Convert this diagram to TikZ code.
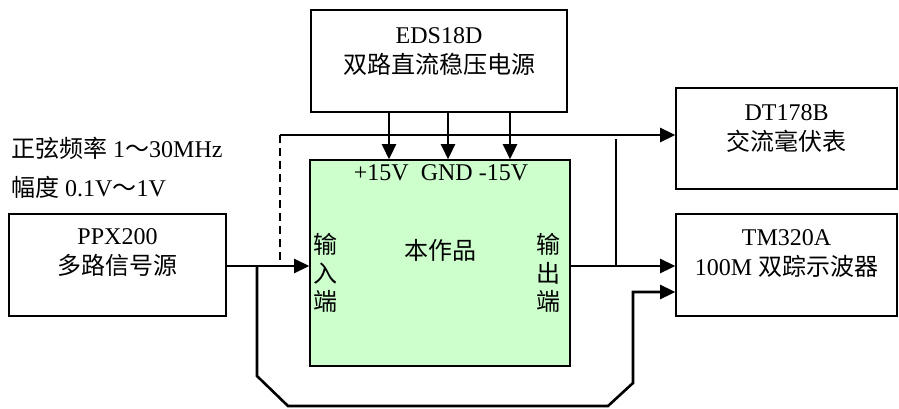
\documentclass[tikz,border=0pt]{standalone}
\usepackage{fontspec}
\setmainfont{Liberation Serif}
\newfontfamily\cjk{Noto Sans CJK SC}
\usetikzlibrary{arrows.meta}
\tikzset{
  box/.style={draw=black, line width=1.6pt, rectangle, inner sep=0pt},
  txt/.style={font=\fontsize{24}{30}\selectfont, align=center, inner sep=0pt},
  conn/.style={line width=2.6pt, draw=black},
  arr/.style={conn, -{Triangle[length=15pt,width=14pt]}},
  thin/.style={line width=2pt, draw=black},
  dashline/.style={line width=1.6pt, draw=black, dash pattern=on 8pt off 5pt}
}
\definecolor{work}{RGB}{204,255,204}
\begin{document}
\begin{tikzpicture}[x=1pt,y=-1pt]
\useasboundingbox (0,0) rectangle (899,409);
% boxes
\node[box, minimum width=256pt, minimum height=102pt] (eds) at (439,61) {};
\node[box, fill=work, minimum width=260pt, minimum height=206pt] (work) at (440,263) {};
\node[box, minimum width=217pt, minimum height=102pt] (ppx) at (117.5,265) {};
\node[box, minimum width=221pt, minimum height=101pt] (dt) at (786.5,138.5) {};
\node[box, minimum width=221pt, minimum height=102pt] (tm) at (786.5,265) {};
% box texts
\node[txt] (edst) at (439,52) {EDS18D\\{\cjk 双路直流稳压电源}};
\node[txt] (ppxt) at (117.5,253) {PPX200\\{\cjk 多路信号源}};
\node[txt] (dtt) at (786.5,129) {DT178B\\{\cjk 交流毫伏表}};
\node[txt] (tmt) at (786.5,254) {TM320A\\100M {\cjk 双踪示波器}};
\node[txt] (pins) at (441,173) {+15V\ \ GND -15V};
\node[txt] (body) at (440,250) {\cjk 本作品};
\node[txt, font=\fontsize{24}{28.5}\selectfont] (inl) at (325,273) {\cjk 输\\\cjk 入\\\cjk 端};
\node[txt, font=\fontsize{24}{28.5}\selectfont] (outl) at (548,273) {\cjk 输\\\cjk 出\\\cjk 端};
\node[txt, anchor=west] (freq) at (11,148) {{\cjk 正弦频率} 1{\cjk ～}30MHz};
\node[txt, anchor=west] (amp) at (11,187) {{\cjk 幅度} 0.1V{\cjk ～}1V};
% coordinates
\coordinate (p1) at (389,112);
\coordinate (p2) at (448,112);
\coordinate (p3) at (510,112);
\coordinate (busl) at (280,135);
\coordinate (dashend) at (280,266);
\coordinate (tap) at (616,139);
\coordinate (tapb) at (616,266);
\coordinate (br) at (257,266);
\coordinate (b1) at (257,376);
\coordinate (b2) at (288,406);
\coordinate (b3) at (608,406);
\coordinate (b4) at (633,383);
\coordinate (b5) at (633,292);
% power arrows
\draw[arr] (p1) -- (p1 |- work.north);
\draw[arr] (p2) -- (p2 |- work.north);
\draw[arr] (p3) -- (p3 |- work.north);
% top bus to DT178B
\draw[arr] (busl) -- (busl -| dt.west);
\draw[dashline] (busl) -- (dashend);
% input
\draw[arr] (ppx.east |- br) -- (br -| work.west);
% output
\draw[arr] (work.east |- tapb) -- (tapb -| tm.west);
\draw[thin] (tapb) -- (tap);
% bypass to oscilloscope
\draw[arr, line join=miter] (br) -- (b1) -- (b2) -- (b3) -- (b4) -- (b5) -- (b5 -| tm.west);
\end{tikzpicture}
\end{document}
